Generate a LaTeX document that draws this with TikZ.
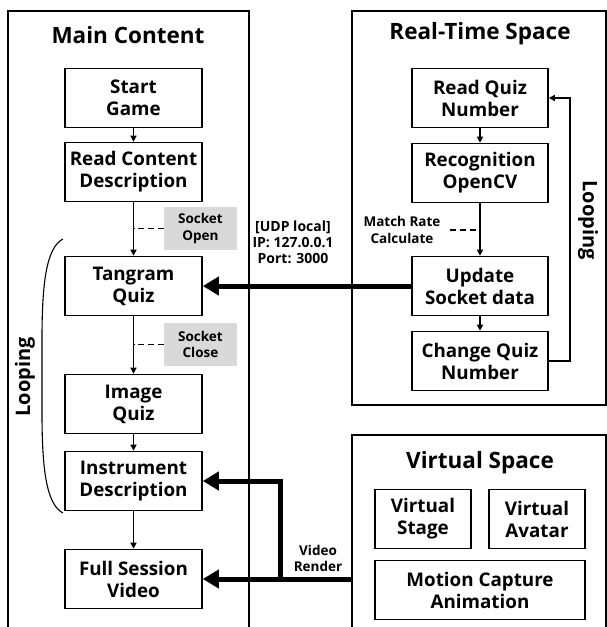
\documentclass[tikz,border=0pt]{standalone}
\usepackage{fontspec}
\setmainfont{Open Sans}
\usetikzlibrary{arrows.meta,positioning}

\begin{document}
\begin{tikzpicture}[x=1pt, y=-1pt,
    panel/.style={draw, line width=1.5pt},
    ttl/.style={font=\bfseries\fontsize{22.5}{26}\selectfont},
    box/.style={draw, line width=1.6pt, minimum width=137pt, minimum height=59pt, align=center, font=\bfseries\fontsize{18.8}{22}\selectfont},
    vbox/.style={box, minimum width=96pt},
    note/.style={align=center, font=\bfseries\fontsize{13.5}{16.5}\selectfont},
    sock/.style={note, fill=black!15, minimum width=73pt, minimum height=43pt},
    loopl/.style={font=\bfseries\fontsize{20}{24}\selectfont},
    arr/.style={-{Triangle[length=6pt,width=6pt]}, line width=1.4pt},
    dsh/.style={dashed, dash pattern=on 6pt off 4pt, line width=1.4pt},
    fat/.style={-{Triangle[length=16pt,width=18pt]}, line width=5pt}
  ]
    \useasboundingbox (0,0) rectangle (607,627);

    % the three spaces
    \node[panel, minimum width=241pt, minimum height=640pt, anchor=north west] (mainpanel) at (7,10) {};
    \node[panel, minimum width=254pt, minimum height=394pt, anchor=north west] (rtpanel) at (351,10) {};
    \node[panel, minimum width=254pt, minimum height=230pt, anchor=north west] (vspanel) at (351,434) {};

    % main content
    \node[ttl] (mainttl) at (128,35) {Main Content};
    \node[box] (start)    at (133.5,98)  {Start\\Game};
    \node[box] (readdesc) at (133.5,172) {Read Content\\Description};
    \node[box] (tangram)  at (133.5,286) {Tangram\\Quiz};
    \node[box] (imgquiz)  at (133.5,404) {Image\\Quiz};
    \node[box] (instr)    at (133.5,481) {Instrument\\Description};
    \node[box] (fullvid)  at (133.5,579) {Full Session\\Video};
    \node[sock] (sockopen)  at (200.5,228.5) {Socket\\Open};
    \node[sock] (sockclose) at (200.5,344.5) {Socket\\Close};
    \node[loopl, rotate=90] (loopmain) at (25,377) {Looping};

    % real-time space
    \node[ttl] (rtttl) at (480,34) {Real-Time Space};
    \node[box, minimum width=136pt] (readnum)   at (480,98)  {Read Quiz\\Number};
    \node[box, minimum width=136pt] (recog)     at (480,173) {Recognition\\OpenCV};
    \node[box, minimum width=136pt] (update)    at (480,286) {Update\\Socket data};
    \node[box, minimum width=136pt] (changenum) at (480,361) {Change Quiz\\Number};
    \node[note, inner xsep=9pt] (matchrate) at (402,230) {Match Rate\\Calculate};
    \node[loopl, rotate=-90] (looprt) at (588,220) {Looping};

    % virtual space
    \node[ttl] (vsttl) at (480,463) {Virtual Space};
    \node[vbox] (vstage)  at (423,519) {Virtual\\Stage};
    \node[vbox] (vavatar) at (537,519) {Virtual\\Avatar};
    \node[box, minimum width=210pt] (mocap) at (480,590) {Motion Capture\\Animation};

    \node[note, font=\bfseries\fontsize{14}{16}\selectfont] (udp) at (293,242) {[UDP local]\\IP: 127.0.0.1\\Port: 3000};
    \node[note] (vrender) at (318,558.5) {Video\\Render};

    % flow in the main content
    \draw[arr] (start) -- (readdesc);
    \draw[arr] (readdesc) -- (tangram);
    \draw[arr] (tangram) -- (imgquiz);
    \draw[arr] (imgquiz) -- (instr);
    \draw[arr] (instr) -- (fullvid);
    \draw[dsh] (sockopen.west) -- (sockopen.west -| readdesc.south);
    \draw[dsh] (sockclose.west) -- (sockclose.west -| tangram.south);
    \draw[line width=1.1pt] (63,239) .. controls (45,248) and (42,290) .. (42,340)
      -- (42,412) .. controls (42,462) and (45,504) .. (63,513);

    % recognition loop
    \draw[arr] (readnum) -- (recog);
    \draw[arr] (recog) -- (update);
    \draw[arr] (update) -- (changenum);
    \draw[dsh] (matchrate.east) -- (matchrate.east -| recog.south);
    \draw[arr] (changenum.east) -- ++(21,0) |- (readnum.east);

    % socket data and video render
    \draw[fat] (update) -- (tangram);
    \coordinate (vrjoin) at (280,579);
    \draw[fat] (vspanel.west |- fullvid.east) -- (fullvid.east);
    \draw[fat] (vrjoin) |- (instr.east);
\end{tikzpicture}
\end{document}
